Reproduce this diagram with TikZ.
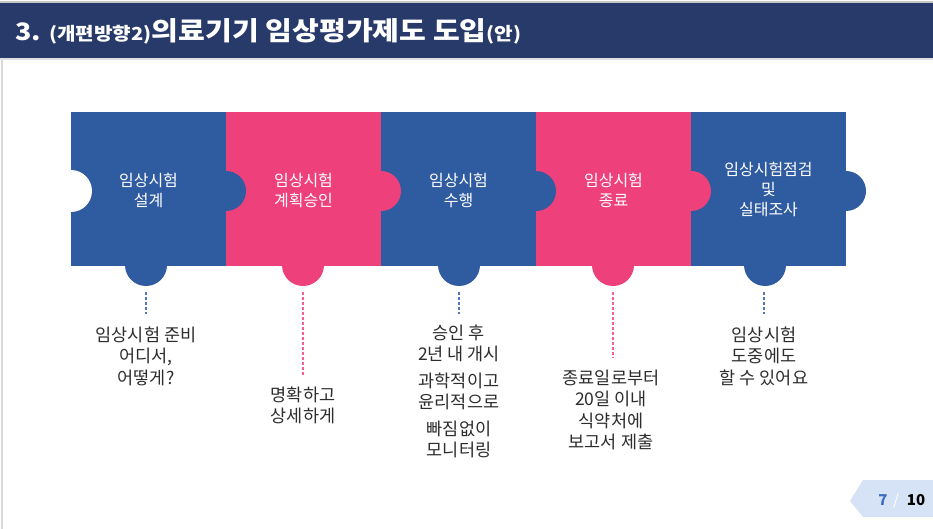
\documentclass[tikz,border=0pt]{standalone}
\usepackage{graphicx}
\usepackage{fontspec}
\setmainfont{Noto Sans CJK KR}
\definecolor{navy}{RGB}{40,58,106}
\definecolor{pblue}{RGB}{47,91,161}
\definecolor{ppink}{RGB}{238,64,122}
\definecolor{dblue}{RGB}{80,118,190}
\definecolor{dpink}{RGB}{242,96,146}
\definecolor{captxt}{RGB}{45,45,45}
\definecolor{pagebg}{RGB}{214,226,245}
\definecolor{pageblue}{RGB}{60,110,190}
\tikzset{
  piecetxt/.style={text=white, align=center, font=\fontsize{16}{20}\selectfont, inner sep=0pt},
  captxtstyle/.style={text=captxt, align=center, font=\fontsize{17.5}{21.5}\selectfont, inner sep=0pt},
  dashblue/.style={dblue, line width=1.6pt, dash pattern=on 3pt off 2pt},
  dashpink/.style={dpink, line width=1.6pt, dash pattern=on 3pt off 2pt}
}
\begin{document}
\begin{tikzpicture}[x=1pt,y=-1pt]
\useasboundingbox (0,0) rectangle (933,529);
\fill[white] (0,0) rectangle (933,529);
% header
\fill[gray!45] (0,1) rectangle (933,3);
\fill[navy] (0,3) rectangle (933,58);
\fill[gray!25] (0,58) rectangle (933,60);
\fill[gray!30] (0.5,60) rectangle (2.5,529);
\node[anchor=base west, text=white, inner sep=0pt] (title) at (15,40.5)
  {\scalebox{1.12}[1]{\bfseries\fontsize{24}{24}\selectfont 3. \fontsize{18}{18}\selectfont(개편방향2)\fontsize{26}{26}\selectfont 의료기기 임상평가제도 도입\fontsize{18}{18}\selectfont(안)}};
% piece rectangles
\foreach \i/\c in {1/pblue,2/ppink,3/pblue,4/ppink,5/pblue}{
  \fill[\c] ({71+155*(\i-1)},112) rectangle ({71+155*\i},266);
}
% bumps
\foreach \i/\c/\bx in {1/pblue/146,2/ppink/303,3/pblue/459,4/ppink/613,5/pblue/765}{
  \fill[\c] ({71+155*\i},191) circle[radius=20];
  \fill[\c] (\bx,265) circle[radius=21];
}
\fill[white] (71,191) circle[radius=21];
% piece texts
\node[piecetxt] (p1) at (148.5,190) {임상시험\\설계};
\node[piecetxt] (p2) at (303.5,190) {임상시험\\계획승인};
\node[piecetxt] (p3) at (458.5,190) {임상시험\\수행};
\node[piecetxt] (p4) at (613.5,190) {임상시험\\종료};
\node[piecetxt] (p5) at (768.5,189) {임상시험점검\\및\\실태조사};
% connector coordinates
\coordinate (s1) at (146,292); \coordinate (e1) at (146,314);
\coordinate (s2) at (303,292); \coordinate (e2) at (303,375);
\coordinate (s3) at (459,292); \coordinate (e3) at (459,314);
\coordinate (s4) at (613,292); \coordinate (e4) at (613,358);
\coordinate (s5) at (764,292); \coordinate (e5) at (764,314);
\draw[dashblue] (s1) -- (e1);
\draw[dashpink] (s2) -- (e2);
\draw[dashblue] (s3) -- (e3);
\draw[dashpink] (s4) -- (e4);
\draw[dashblue] (s5) -- (e5);
% captions
\node[captxtstyle] (c1) at (146,356) {임상시험 준비\\어디서,\\어떻게?};
\node[captxtstyle] (c2) at (303,405.5) {명확하고\\상세하게};
\node[captxtstyle] (c3) at (459,391.5) {승인 후\\2년 내 개시\\[5pt]과학적이고\\윤리적으로\\[5pt]빠짐없이\\모니터링};
\node[captxtstyle] (c4) at (611,410) {종료일로부터\\20일 이내\\식약처에\\보고서 제출};
\node[captxtstyle] (c5) at (764,356) {임상시험\\도중에도\\할 수 있어요};
% page indicator
\fill[pagebg] (850,501) -- (863,480) -- (933,480) -- (933,517) -- (863,517) -- cycle;
\node[anchor=base, inner sep=0pt, text=pageblue, font=\bfseries\fontsize{15}{15}\selectfont] (pg7) at (883,505) {7};
\node[anchor=base, inner sep=0pt, text=white, font=\fontsize{15}{15}\selectfont] (pgs) at (896,505) {/};
\node[anchor=base, inner sep=0pt, text=black, font=\bfseries\fontsize{15}{15}\selectfont] (pg10) at (916,505) {10};
\end{tikzpicture}
\end{document}
